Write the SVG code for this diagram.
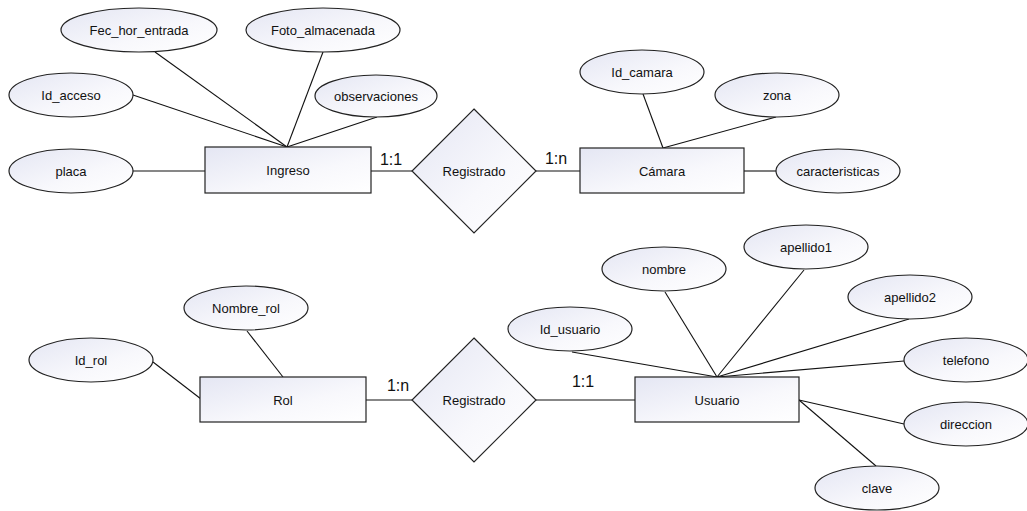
<svg xmlns="http://www.w3.org/2000/svg" width="1027" height="511" viewBox="0 0 1027 511">
<defs>
<linearGradient id="g" x1="0" y1="0" x2="1" y2="1">
<stop offset="0" stop-color="#e4e6f3"/>
<stop offset="0.6" stop-color="#f8f8fc"/>
<stop offset="1" stop-color="#ffffff"/>
</linearGradient>
<style>
.s{fill:url(#g);stroke:#222;stroke-width:1.2}
.t{font-family:"Liberation Sans",Arial,sans-serif;font-size:13px;fill:#111;text-anchor:middle;dominant-baseline:central}
.c{font-family:"Liberation Sans",Arial,sans-serif;font-size:16px;fill:#111;text-anchor:middle}
.l{stroke:#111;stroke-width:1.1;fill:none}
</style>
</defs>
<rect width="1027" height="511" fill="#fff"/>
<g id="connectors" class="l">
<line x1="155" y1="52" x2="287" y2="147"/>
<line x1="133" y1="95" x2="287" y2="147"/>
<line x1="323" y1="52" x2="287" y2="147"/>
<line x1="377" y1="117" x2="287" y2="147"/>
<line x1="133" y1="171" x2="205" y2="171"/>
<line x1="371" y1="171" x2="412" y2="171"/>
<line x1="536" y1="171" x2="580" y2="171"/>
<line x1="643" y1="94" x2="663" y2="148"/>
<line x1="776" y1="117" x2="663" y2="148"/>
<line x1="744" y1="171" x2="776" y2="171"/>
<line x1="247" y1="331" x2="283" y2="377"/>
<line x1="153" y1="362" x2="201" y2="399"/>
<line x1="366" y1="400" x2="412" y2="400"/>
<line x1="536" y1="400" x2="635" y2="400"/>
<line x1="572" y1="352" x2="717" y2="377"/>
<line x1="665" y1="292" x2="717" y2="377"/>
<line x1="804" y1="270" x2="717" y2="377"/>
<line x1="909" y1="319" x2="717" y2="377"/>
<line x1="904" y1="361" x2="717" y2="377"/>
<line x1="799" y1="400" x2="904" y2="424"/>
<line x1="799" y1="400" x2="876" y2="466"/>
</g>
<g id="n_fec"><ellipse class="s" cx="139" cy="30" rx="78" ry="22"/><text class="t" x="139" y="30">Fec_hor_entrada</text></g>
<g id="n_foto"><ellipse class="s" cx="323" cy="30" rx="77" ry="22"/><text class="t" x="323" y="30">Foto_almacenada</text></g>
<g id="n_idacceso"><ellipse class="s" cx="71" cy="95" rx="62" ry="22"/><text class="t" x="71" y="95">Id_acceso</text></g>
<g id="n_obs"><ellipse class="s" cx="376" cy="96" rx="61" ry="21"/><text class="t" x="376" y="96">observaciones</text></g>
<g id="n_placa"><ellipse class="s" cx="71" cy="171" rx="62" ry="22"/><text class="t" x="71" y="171">placa</text></g>
<g id="n_ingreso"><rect class="s" x="205" y="147" width="166" height="46"/><text class="t" x="288" y="170">Ingreso</text></g>
<g id="n_reg1"><polygon class="s" points="474,109 536,171 474,233 412,171"/><text class="t" x="474" y="171">Registrado</text></g>
<g id="n_camara"><rect class="s" x="580" y="148" width="164" height="45"/><text class="t" x="662" y="171">Cámara</text></g>
<g id="n_idcamara"><ellipse class="s" cx="642" cy="72" rx="62" ry="22"/><text class="t" x="642" y="72">Id_camara</text></g>
<g id="n_zona"><ellipse class="s" cx="777" cy="95" rx="62" ry="22"/><text class="t" x="777" y="95">zona</text></g>
<g id="n_carac"><ellipse class="s" cx="838" cy="171" rx="62" ry="22"/><text class="t" x="838" y="171">caracteristicas</text></g>
<g id="n_nombrerol"><ellipse class="s" cx="246" cy="308" rx="62" ry="22"/><text class="t" x="246" y="308">Nombre_rol</text></g>
<g id="n_idrol"><ellipse class="s" cx="91" cy="360" rx="62" ry="22"/><text class="t" x="91" y="360">Id_rol</text></g>
<g id="n_rol"><rect class="s" x="200" y="377" width="166" height="45"/><text class="t" x="283" y="400">Rol</text></g>
<g id="n_reg2"><polygon class="s" points="474,338 536,400 474,462 412,400"/><text class="t" x="474" y="400">Registrado</text></g>
<g id="n_usuario"><rect class="s" x="635" y="377" width="164" height="45"/><text class="t" x="717" y="400">Usuario</text></g>
<g id="n_idusuario"><ellipse class="s" cx="570" cy="329" rx="62" ry="22"/><text class="t" x="570" y="329">Id_usuario</text></g>
<g id="n_nombre"><ellipse class="s" cx="664" cy="269" rx="62" ry="22"/><text class="t" x="664" y="269">nombre</text></g>
<g id="n_apellido1"><ellipse class="s" cx="806" cy="247" rx="62" ry="22"/><text class="t" x="806" y="247">apellido1</text></g>
<g id="n_apellido2"><ellipse class="s" cx="910" cy="297" rx="62" ry="22"/><text class="t" x="910" y="297">apellido2</text></g>
<g id="n_telefono"><ellipse class="s" cx="966" cy="360" rx="62" ry="22"/><text class="t" x="966" y="360">telefono</text></g>
<g id="n_direccion"><ellipse class="s" cx="966" cy="424" rx="62" ry="22"/><text class="t" x="966" y="424">direccion</text></g>
<g id="n_clave"><ellipse class="s" cx="877" cy="488" rx="62" ry="22"/><text class="t" x="877" y="488">clave</text></g>
<g id="labels">
<text class="c" x="391" y="165">1:1</text>
<text class="c" x="556" y="164">1:n</text>
<text class="c" x="398" y="391">1:n</text>
<text class="c" x="583" y="387">1:1</text>
</g>
</svg>
